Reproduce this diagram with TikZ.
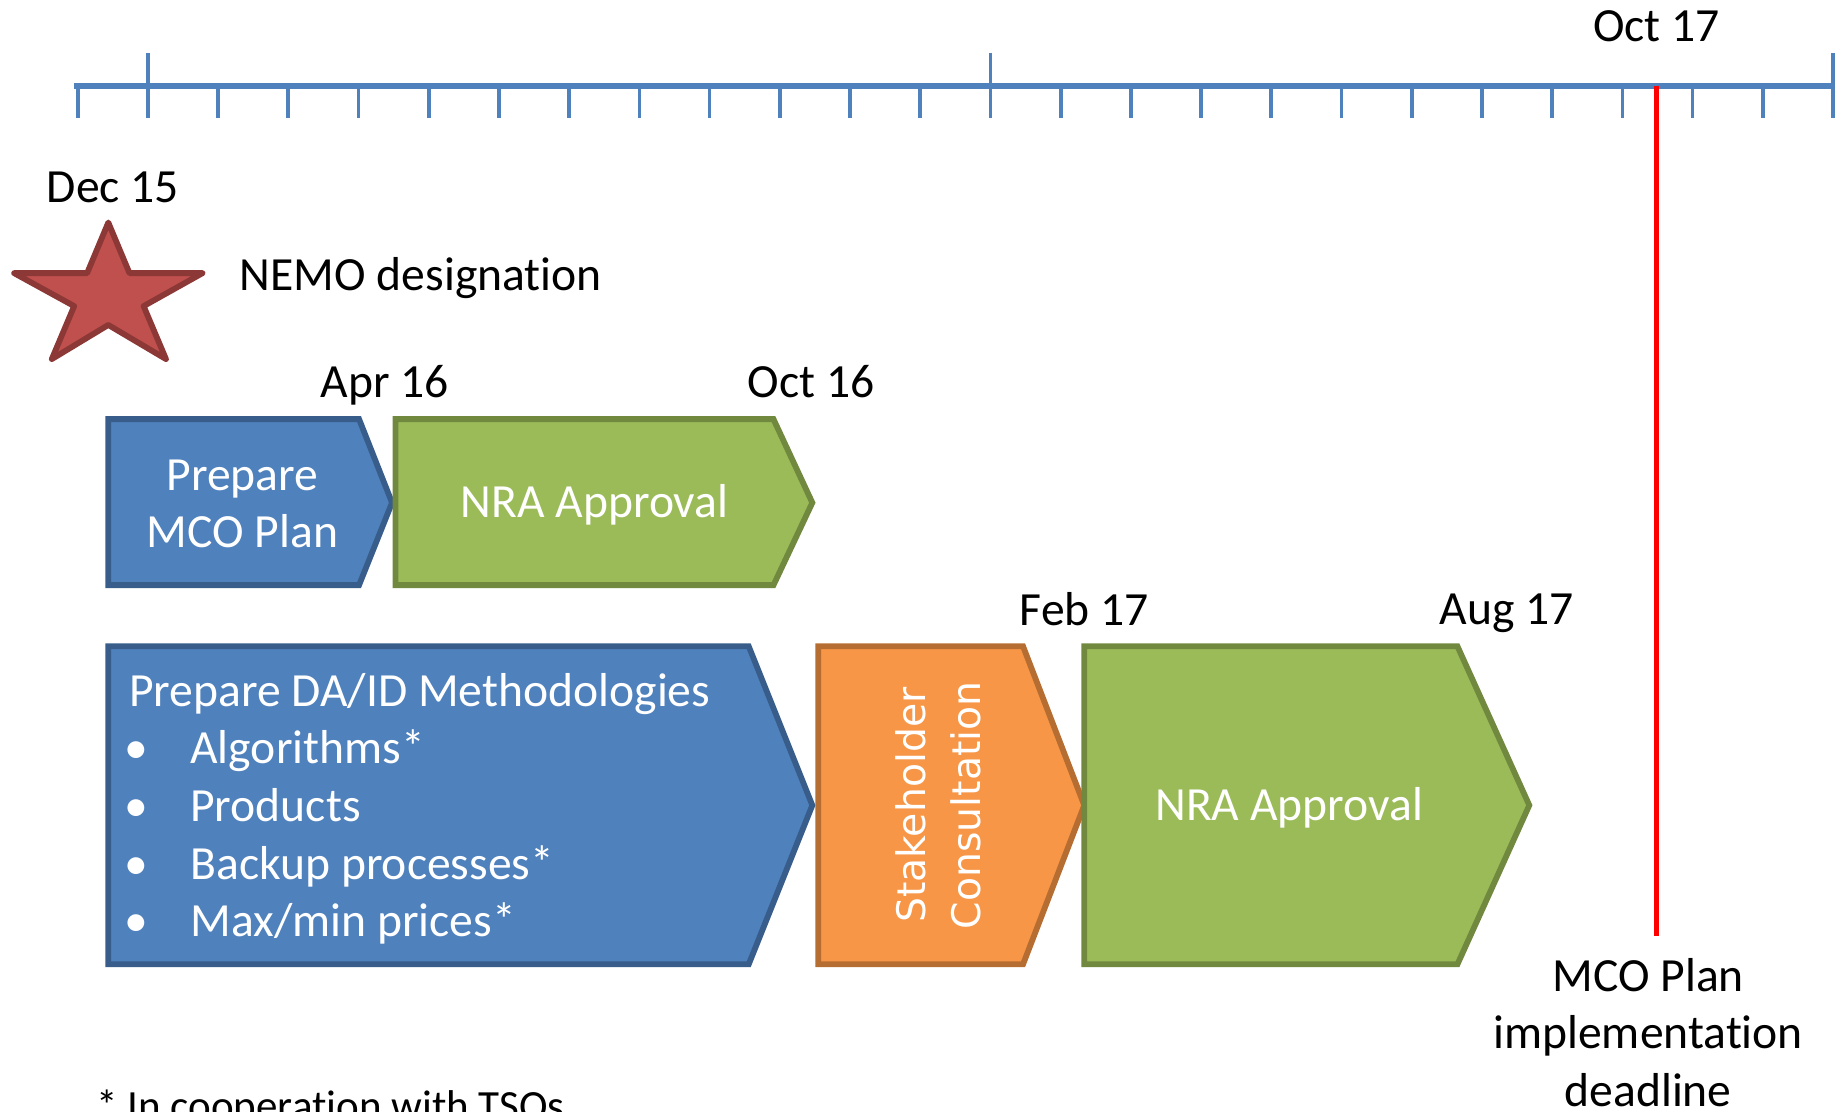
\documentclass[tikz,border=0pt]{standalone}
\usepackage{fontspec}
\setmainfont[Ligatures=NoCommon]{Carlito}
\newfontfamily\wideface{DejaVu Sans}
\usepackage{tikz}
\usetikzlibrary{positioning}
\usepackage{xcolor}
\definecolor{axisblue}{HTML}{4F81BD}
\definecolor{taskblue}{HTML}{4F81BD}
\definecolor{taskblueline}{HTML}{385D8A}
\definecolor{taskgreen}{HTML}{9BBB59}
\definecolor{taskgreenline}{HTML}{71893F}
\definecolor{taskorange}{HTML}{F79646}
\definecolor{taskorangeline}{HTML}{B66D31}
\definecolor{starred}{HTML}{C0504D}
\definecolor{starredline}{HTML}{8C3836}

\begin{document}
\begin{tikzpicture}[x=0.01cm, y=-0.01cm, font=\fontsize{11.5}{13.9}\selectfont,
    tick/.style={axisblue, line width=0.9pt},
    task/.style={line width=1.4pt, line join=miter},
    tasktext/.style={white, align=center, inner sep=0pt}]
\useasboundingbox (0,0) rectangle (1568,944.5);
	% time axis
	\draw[axisblue, line width=1.4pt] (63, 73)--(1557, 73);
	\foreach \i in {0,...,25}
		\draw[tick] ({66+59.64*\i}, 73)--({66+59.64*\i}, 100);
	\foreach \i in {1,13,25}
		\draw[tick] ({66+59.64*\i}, 45)--({66+59.64*\i}, 100);
	\node (oct17) at (1407, 22) {Oct 17};
	\coordinate (dlTop) at (1407, 73);
	\coordinate (dlEnd) at (1407, 795);
	\draw[red, line width=1pt] (dlTop)--(dlEnd);
	\node[anchor=north, align=center, inner sep=0pt] (deadline) at (1400, 813) {MCO Plan\\implementation\\deadline};

	% designation
	\node (dec15) at (96, 159) {Dec 15};
	\filldraw[fill=starred, draw=starredline, line width=1.4pt, line join=round]
		(92,189)--(110,232)--(172,232)--(122,260)--(141,305)--(92,276)--(44,305)--(63,260)--(12,232)--(74,232)--cycle;
	\node[anchor=west, inner sep=0pt] (nemo) at (203, 236) {NEMO designation};

	% first row
	\node (apr16) at (327, 327) {Apr 16};
	\node (oct16) at (689, 324) {Oct 16};
	\filldraw[task, fill=taskblue, draw=taskblueline] (92,356)--(305,356)--(333,427)--(305,497)--(92,497)--cycle;
	\filldraw[task, fill=taskgreen, draw=taskgreenline] (336,356)--(657,356)--(690,427)--(657,497)--(336,497)--cycle;
	\node[tasktext] (mcoPlan) at (206, 428) {Prepare\\MCO Plan};
	\node[tasktext] (nraFirst) at (505, 429) {NRA Approval};

	% second row
	\node (feb17) at (921, 517) {Feb 17};
	\node (aug17) at (1280, 521) {Aug 17};
	\filldraw[task, fill=taskblue, draw=taskblueline] (92,549)--(636,549)--(690,684)--(636,819)--(92,819)--cycle;
	\filldraw[task, fill=taskorange, draw=taskorangeline] (695,549)--(869,549)--(921,684)--(869,819)--(695,819)--cycle;
	\filldraw[task, fill=taskgreen, draw=taskgreenline] (921,549)--(1238,549)--(1299,684)--(1238,819)--(921,819)--cycle;
	\node[tasktext, align=left, anchor=west] (methods) at (109, 687) {Prepare DA/ID Methodologies\\
		\hbox to 0.52cm{\kern-0.04cm\textbullet\hfil}Algorithms*\\
		\hbox to 0.52cm{\kern-0.04cm\textbullet\hfil}Products\\
		\hbox to 0.52cm{\kern-0.04cm\textbullet\hfil}Backup processes*\\
		\hbox to 0.52cm{\kern-0.04cm\textbullet\hfil}Max/min prices*};
	\node[tasktext, rotate=90, font=\wideface\fontsize{9.5}{13.4}\selectfont] (consult) at (797, 684) {Stakeholder\\Consultation};
	\node[tasktext] (nraSecond) at (1095, 686) {NRA Approval};

	\node[anchor=north west, inner sep=0pt] (note) at (81, 925) {\fontsize{10.4}{12.5}\selectfont * In cooperation with TSOs};
\end{tikzpicture}
\end{document}
